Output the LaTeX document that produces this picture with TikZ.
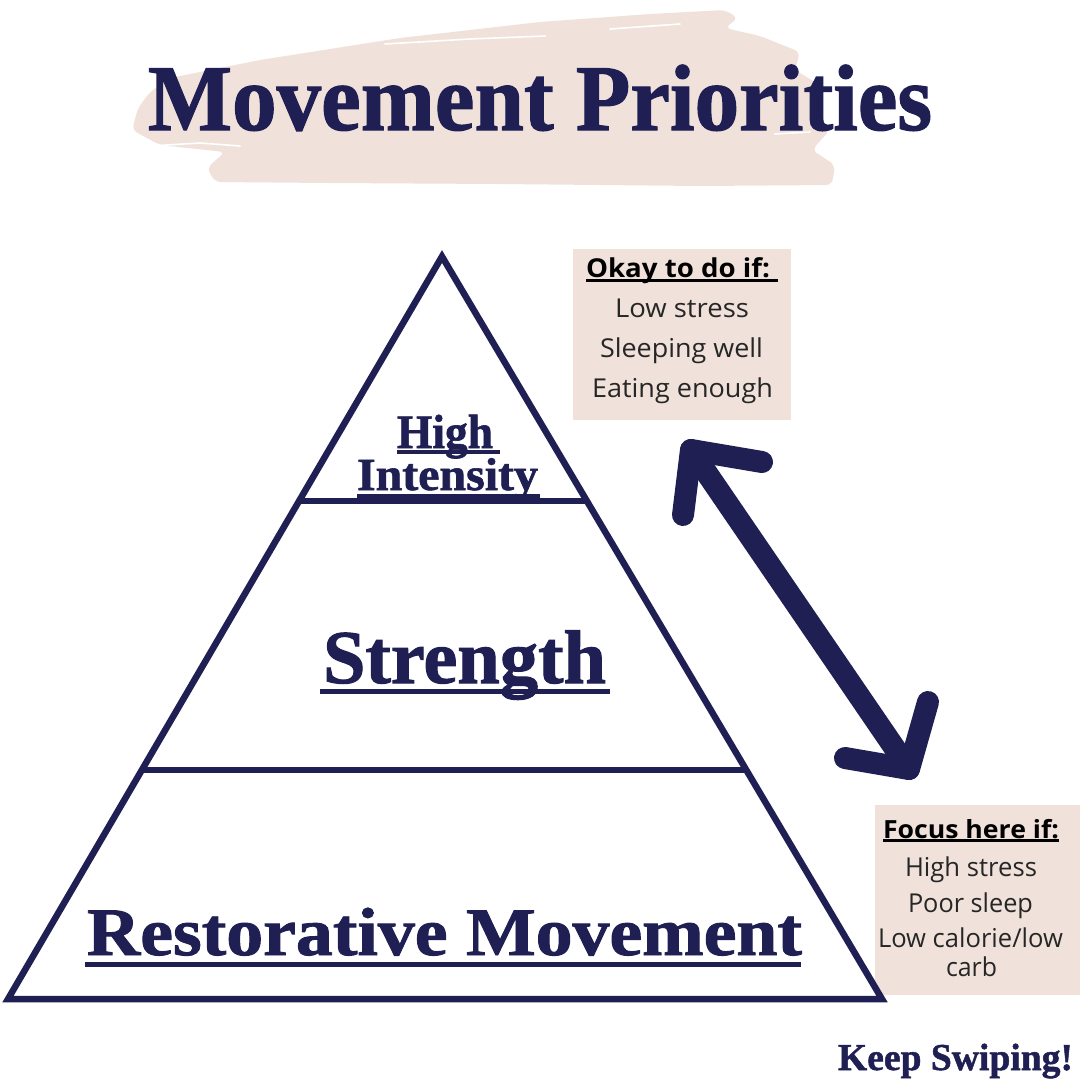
\documentclass[tikz,border=0pt]{standalone}
\usepackage{fontspec}
\usepackage{graphicx}
\setmainfont{Liberation Serif}
\newfontfamily\dispf{Liberation Serif}[BoldFeatures={FakeBold=1.3}]
\newfontfamily\osans{Open Sans}
\usetikzlibrary{calc}
\definecolor{navy}{HTML}{1F1F53}
\definecolor{beige}{HTML}{F0E2DA}
\definecolor{inkc}{HTML}{262626}
\newsavebox\fitbox
\newcommand\fitto[2]{\sbox\fitbox{#2}\pgfmathsetmacro\fitf{#1/\the\wd\fitbox}\scalebox{\fitf}[1]{\usebox\fitbox}}
\tikzset{
  lbl/.style={anchor=base west, inner sep=0pt, outer sep=0pt},
  disp/.style={lbl, text=navy, font=\dispf\bfseries},
  bodytxt/.style={lbl, text=inkc, font=\osans},
  headtxt/.style={lbl, text=black, font=\osans\bfseries},
  tri/.style={draw=navy, line width=6.5pt, line join=miter},
  divider/.style={draw=navy, line width=6pt},
  uline/.style={fill=navy},
  hline/.style={fill=black},
  arr/.style={draw=navy, line width=22pt, line cap=round, line join=round},
  boxst/.style={fill=beige, inner sep=0pt, outer sep=0pt, anchor=north west},
  brush/.style={fill=beige, rounded corners=6pt},
  streak/.style={draw=white, line width=1.6pt, line cap=round}
}
\begin{document}
\begin{tikzpicture}[x=1pt,y=-1pt]
\useasboundingbox (0,0) rectangle (1080,1080);
\fill[white] (0,0) rectangle (1080,1080);
% brush stroke behind title
\path[brush] (170,78) -- (260,60) -- (400,38) -- (540,22) -- (650,14) -- (725,10) -- (738,18) -- (725,28) -- (760,36) -- (800,52) -- (795,70) -- (820,85) -- (812,110) -- (830,130) -- (812,150) -- (835,165) -- (832,185) -- (700,186) -- (500,184) -- (330,183) -- (215,182) -- (207,168) -- (225,152) -- (160,145) -- (132,130) -- (138,108) -- (150,92) -- cycle;
\draw[streak] (385,44) -- (470,39) -- (545,36);
\draw[streak] (610,29) -- (680,24);
\draw[streak] (150,146) -- (200,143) -- (240,146);
\draw[streak] (775,134) -- (810,132);
% title
\node[disp] (title) at (148,130) {\fitto{784}{\fontsize{94}{94}\selectfont Movement Priorities}};
% side boxes (drawn below the pyramid outline)
\node[boxst, minimum width=218pt, minimum height=171pt] (okbox) at (573,249) {};
\node[boxst, minimum width=205pt, minimum height=190pt] (focbox) at (875,805) {};
% pyramid
\coordinate (apex) at (442,256.5);
\coordinate (bl) at (8,999);
\coordinate (br) at (882,999);
\draw[tri] (apex) -- (bl) -- (br) -- cycle;
\coordinate (d1l) at ($(apex)!0.3298!(bl)$);
\coordinate (d1r) at ($(apex)!0.3298!(br)$);
\coordinate (d2l) at ($(apex)!0.6918!(bl)$);
\coordinate (d2r) at ($(apex)!0.6918!(br)$);
\draw[divider] (d1l) -- (d1r);
\draw[divider] (d2l) -- (d2r);
% pyramid labels
\node[disp] (high) at (397,448) {\fitto{96}{\fontsize{48}{48}\selectfont High}};
\fill[uline] (397,450) rectangle (500,454);
\node[disp] (intens) at (357,490) {\fitto{181}{\fontsize{46}{46}\selectfont Intensity}};
\fill[uline] (357,494) rectangle (540,498);
\node[disp] (strength) at (323,683) {\fitto{283}{\fontsize{76}{76}\selectfont Strength}};
\fill[uline] (320,689) rectangle (610,694);
\node[disp] (resto) at (87,955) {\fitto{715}{\fontsize{68}{68}\selectfont Restorative Movement}};
\fill[uline] (85,962) rectangle (801,967);
% box 1 text
\node[headtxt] (okhead) at (586,277) {\fitto{184}{\fontsize{26}{26}\selectfont Okay to do if:}};
\fill[hline] (586,279.2) rectangle (778,281.8);
\node[bodytxt] (ok1) at (615,317) {\fitto{134}{\fontsize{26}{26}\selectfont Low stress}};
\node[bodytxt] (ok2) at (600,357) {\fitto{163}{\fontsize{26}{26}\selectfont Sleeping well}};
\node[bodytxt] (ok3) at (592,397) {\fitto{181}{\fontsize{26}{26}\selectfont Eating enough}};
% box 2 text
\node[headtxt] (fochead) at (883,838) {\fitto{176}{\fontsize{25}{25}\selectfont Focus here if:}};
\fill[hline] (883,839.3) rectangle (1059,841.9);
\node[bodytxt] (f1) at (905,876) {\fitto{132}{\fontsize{26}{26}\selectfont High stress}};
\node[bodytxt] (f2) at (908,912) {\fitto{125}{\fontsize{26}{26}\selectfont Poor sleep}};
\node[bodytxt] (f3) at (878,947) {\fitto{185}{\fontsize{26}{26}\selectfont Low calorie/low}};
\node[bodytxt] (f4) at (946,976) {\fitto{51}{\fontsize{26}{26}\selectfont carb}};
% double arrow
\coordinate (aT) at (691,450);
\coordinate (aB) at (909,769);
\coordinate (aT1) at (762,462);
\coordinate (aT2) at (683,515);
\coordinate (aB1) at (845,758);
\coordinate (aB2) at (928,702);
\draw[arr] (aT) -- (aB);
\draw[arr] (aT1) -- (aT) -- (aT2);
\draw[arr] (aB1) -- (aB) -- (aB2);
% footer
\node[disp] (swipe) at (838,1070) {\fitto{235}{\fontsize{38}{38}\selectfont Keep Swiping!}};
\end{tikzpicture}
\end{document}
